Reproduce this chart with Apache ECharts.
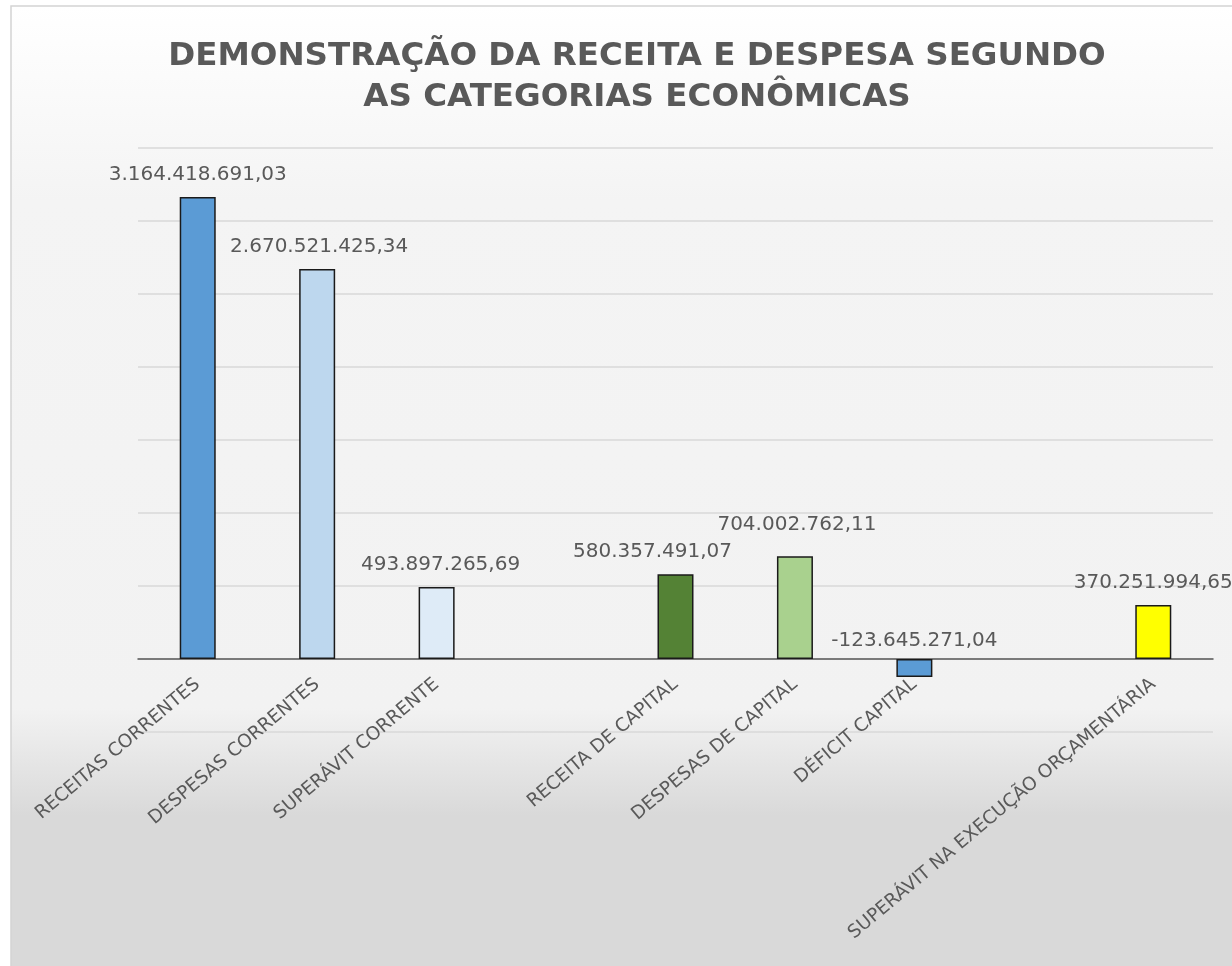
<!DOCTYPE html>
<html>
<head>
<meta charset="utf-8">
<title>Demonstração da receita e despesa</title>
<script src="https://cdn.jsdelivr.net/npm/echarts@6/dist/echarts.min.js"></script>
<style>
html, body { margin: 0; padding: 0; background: #fff; }
#main { width: 1232px; height: 966px; }
</style>
</head>
<body>
<div id="main"></div>
<script>
// dados
var categorias = [
	"RECEITAS CORRENTES",
	"DESPESAS CORRENTES",
	"SUPERÁVIT CORRENTE",
	"",
	"RECEITA DE CAPITAL",
	"DESPESAS DE CAPITAL",
	"DÉFICIT CAPITAL",
	"",
	"SUPERÁVIT NA EXECUÇÃO ORÇAMENTÁRIA"
];
var valores = [3164418691.03, 2670521425.34, 493897265.69, null, 580357491.07, 704002762.11, -123645271.04, null, 370251994.65];
var eixoY = { min: -500000000, max: 3500000000, passo: 500000000 };

// estilo de cada barra
var cores = ["#5b9bd5", "#bdd7ee", "#deebf7", null, "#548235", "#a9d18e", "#5b9bd5", null, "#ffff00"];
var deslocRotulo = [[0, 0], [2, 0], [4, 0], null, [-23, 0], [2, -9], [0, -4], null, [0, 0]];

function formataBR(v) {
	var s = Math.abs(v).toFixed(2).split(".");
	var inteiro = s[0].replace(/\B(?=(\d{3})+(?!\d))/g, ".");
	return (v < 0 ? "-" : "") + inteiro + "," + s[1];
}

var barras = [];
for (var i = 0; i < valores.length; i++) {
	if (valores[i] === null) {
		barras.push(null);
		continue;
	}
	var item = {
		value: valores[i],
		itemStyle: { color: cores[i] },
		label: { offset: deslocRotulo[i] }
	};
	if (valores[i] < 0) {
		// rótulo acima da linha do zero
		item.label.position = "insideTop";
		item.label.offset = [deslocRotulo[i][0], -36 + deslocRotulo[i][1]];
	}
	barras.push(item);
}

var myChart = echarts.init(document.getElementById("main"));
var option = {
	backgroundColor: "#ffffff",
	animation: false,
	graphic: [{
		type: "rect",
		z: -10,
		silent: true,
		shape: { x: 11, y: 6, width: 1240, height: 975 },
		style: {
			fill: {
				type: "linear", x: 0, y: 0, x2: 0, y2: 1,
				colorStops: [
					{ offset: 0, color: "#ffffff" },
					{ offset: 0.2, color: "#f4f4f4" },
					{ offset: 0.72, color: "#f2f2f2" },
					{ offset: 0.83, color: "#d9d9d9" },
					{ offset: 1, color: "#d9d9d9" }
				]
			},
			stroke: "#d4d4d4",
			lineWidth: 1.5
		}
	}],
	title: {
		text: "DEMONSTRAÇÃO DA RECEITA E DESPESA SEGUNDO\nAS CATEGORIAS ECONÔMICAS",
		left: 632,
		top: 31,
		textAlign: "center",
		textStyle: {
			fontFamily: "DejaVu Sans",
			fontWeight: "bold",
			fontSize: 32.5,
			lineHeight: 41,
			color: "#595959"
		}
	},
	grid: { left: 138, right: 19, top: 148, bottom: 234, containLabel: false, outerBoundsMode: "none" },
	xAxis: {
		type: "category",
		data: categorias,
		axisTick: { show: false },
		axisLine: { show: true, lineStyle: { color: "#595959", width: 1.5 } },
		axisLabel: {
			interval: 0,
			rotate: 40,
			margin: -50, // rótulos logo abaixo da linha do zero
			fontFamily: "DejaVu Sans",
			fontSize: 18.5,
			color: "#595959"
		}
	},
	yAxis: {
		type: "value",
		min: eixoY.min,
		max: eixoY.max,
		interval: eixoY.passo,
		axisLine: { show: false },
		axisTick: { show: false },
		axisLabel: { show: false },
		splitLine: { lineStyle: { color: "#d9d9d9", width: 1.5 } }
	},
	series: [{
		name: "valores",
		type: "bar",
		barWidth: 36,
		data: barras,
		itemStyle: { borderColor: "#1a1a1a", borderWidth: 1.5 },
		label: {
			show: true,
			position: "top",
			distance: 12,
			fontFamily: "DejaVu Sans",
			fontSize: 20,
			color: "#595959",
			formatter: function (p) { return formataBR(p.value); }
		}
	}]
};
myChart.setOption(option);
</script>
</body>
</html>
